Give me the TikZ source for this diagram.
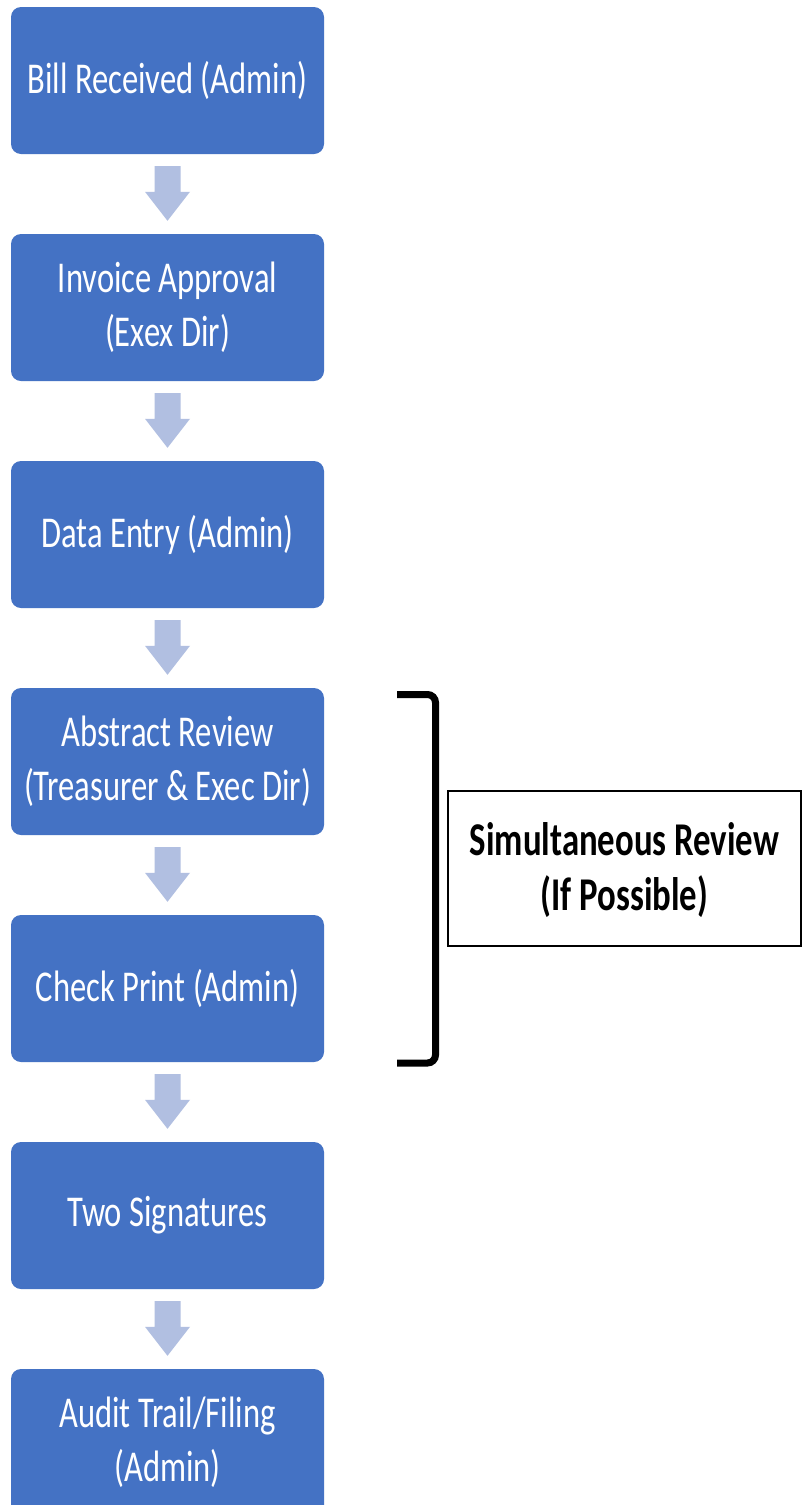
\documentclass[tikz,border=0pt]{standalone}
\usepackage{fontspec}
\setmainfont{Carlito}[FakeStretch=0.74]
\usetikzlibrary{calc}
\definecolor{stepblue}{HTML}{4472C4}
\definecolor{arrowblue}{HTML}{B1BFE1}
\tikzset{
  stepbox/.style={fill=stepblue, draw=none, rounded corners=10pt,
    minimum width=313pt, minimum height=147pt, inner sep=0pt,
    align=center, text=white, font=\fontsize{44}{53.7}\selectfont},
  notebox/.style={draw=black, line width=2pt, fill=white,
    minimum width=353pt, minimum height=155pt, inner sep=0pt,
    align=center, font=\fontsize{47}{55}\selectfont\bfseries},
  arrowfill/.style={fill=arrowblue, draw=none}
}
% block arrow from the bottom of one step to the top of the next
\newcommand\flowarrow[2]{%
  \fill[arrowfill] let \p1=(#1.south), \p2=(#2.north) in
    (\x1-13pt,\y1-12pt) -- (\x1+13pt,\y1-12pt) -- (\x1+13pt,\y2+42pt)
    -- (\x1+22.5pt,\y2+42pt) -- (\x1,\y2+13pt) -- (\x1-22.5pt,\y2+42pt)
    -- (\x1-13pt,\y2+42pt) -- cycle;}
\begin{document}
\begin{tikzpicture}[x=1pt,y=-1pt]
  \clip (0,0) rectangle (802,1505);
  \fill[white] (0,0) rectangle (802,1505);

  \node[stepbox] (s1) at (167.5,80.5)   {Bill Received (Admin)};
  \node[stepbox] (s2) at (167.5,307.5)  {Invoice Approval\\(Exex Dir)};
  \node[stepbox] (s3) at (167.5,534.5)  {Data Entry (Admin)};
  \node[stepbox] (s4) at (167.5,761.5)  {Abstract Review\\(Treasurer \& Exec Dir)};
  \node[stepbox] (s5) at (167.5,988.5)  {Check Print (Admin)};
  \node[stepbox] (s6) at (167.5,1215.5) {Two Signatures};
  \node[stepbox] (s7) at (167.5,1442.5) {Audit Trail/Filing\\(Admin)};

  \flowarrow{s1}{s2}
  \flowarrow{s2}{s3}
  \flowarrow{s3}{s4}
  \flowarrow{s4}{s5}
  \flowarrow{s5}{s6}
  \flowarrow{s6}{s7}

  % bracket grouping the two review steps
  \draw[line width=7pt, rounded corners=8pt]
    (397,694.5) -- (435.5,694.5) -- (435.5,1063) -- (397,1063);

  \node[notebox] (note) at (624.5,868.5) {};
  \node[align=center, font=\fontsize{47}{55}\selectfont\bfseries, inner sep=0pt]
    (notetext) at ([yshift=-1.5pt]note.center) {Simultaneous Review\\(If Possible)};
\end{tikzpicture}
\end{document}
